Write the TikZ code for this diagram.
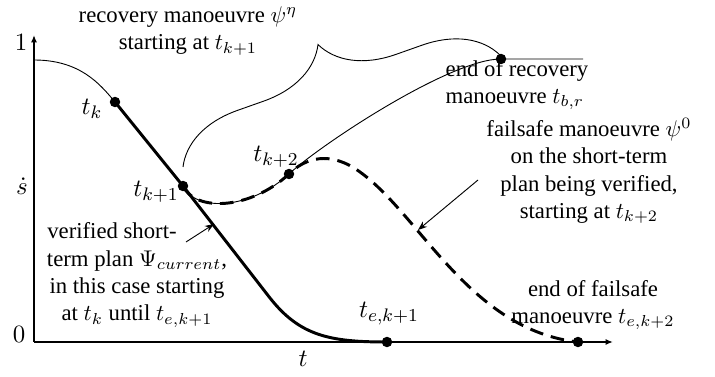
\documentclass[tikz,border=0pt]{standalone}
\usepackage{fontspec}
\setmainfont{Liberation Serif}
\usepackage{tikz}
\usetikzlibrary{arrows.meta,decorations.pathreplacing}
\tikzset{
  ax/.style={-{Latex[length=3.2pt,width=2.6pt]},line width=0.8pt},
  ar/.style={-{Stealth[length=4pt,width=3pt]},line width=0.4pt},
  plan/.style={line width=1.3pt},
  fsafe/.style={line width=1.3pt,dash pattern=on 6pt off 3.5pt},
  rec/.style={line width=0.4pt},
  pt/.style={circle,fill,inner sep=0pt,minimum size=4.6pt},
  lbl/.style={align=center,inner sep=0pt},
  tlbl/.style={font=\fontsize{11}{13}\selectfont,inner sep=0pt}
}

\begin{document}
\begin{tikzpicture}[x=0.44pt,y=-0.44pt]
\useasboundingbox (0,0) rectangle (715,377);
% axes
\coordinate (o) at (34,342);
\coordinate (ytop) at (34,35);
\coordinate (xend) at (613,342);
\draw[ax] (o) -- (ytop);
\draw[ax] (o) -- (xend);
\node[tlbl] (one) at (21,42) {$1$};
\node[tlbl] (zero) at (19,334) {$0$};
\node[tlbl] (sdot) at (22,186) {$\dot{s}$};
\node[tlbl] (tax) at (303,359) {$t$};
% time instants
\coordinate (s0) at (34,60);
\coordinate (tk) at (115,102);
\coordinate (tk1) at (183,186);
\coordinate (tk2) at (289,174);
\coordinate (tbr) at (501,59);
\coordinate (rend) at (583,59);
\coordinate (tek1) at (387,342);
\coordinate (tek2) at (578,342);
% failsafe manoeuvre
\draw[fsafe] (tk1) .. controls (195,212) and (250,210) .. (tk2)
  .. controls (305,158) and (330,150) .. (360,172)
  .. controls (420,215) and (470,330) .. (tek2);
% recovery manoeuvre
\draw[rec] (s0) .. controls (80,60) and (100,84) .. (tk);
\draw[rec] (tk1) .. controls (195,212) and (250,210) .. (tk2)
  .. controls (320,145) and (450,59) .. (tbr) -- (rend);
% verified plan
\draw[plan] (tk) -- (tk1) -- (270,298)
  .. controls (300,336) and (330,342) .. (tek1);
\draw[rec,decorate,decoration={brace,amplitude=31pt}] (183,167) -- (500,55);
% texts
\node[lbl] (recov) at (188,31) {recovery manoeuvre $\psi^{\eta}$\\starting at $t_{k+1}$};
\node[lbl,align=left] (endrec) at (517,85) {end of recovery\\manoeuvre $t_{b,r}$};
\node[lbl] (fstxt) at (589,171) {failsafe manoeuvre $\psi^{0}$\\on the short-term\\plan being verified,\\starting at $t_{k+2}$};
\node[lbl] (veriftxt) at (137,275) {verified short-\hspace*{22pt}\\term plan $\Psi_{current}$,\\in this case starting\\at $t_k$ until $t_{e,k+1}$};
\node[lbl] (endfs) at (593,305) {end of failsafe\\manoeuvre $t_{e,k+2}$};
\coordinate (vfrom) at (186,242);
\coordinate (vto) at (214,224);
\coordinate (ffrom) at (478,180);
\coordinate (fto) at (418,230);
\draw[ar] (vfrom) -- (vto);
\draw[ar] (ffrom) -- (fto);
% dots and labels
\foreach \p in {tk,tk1,tk2,tbr,tek1,tek2}
  \node[pt] (d\p) at (\p) {};
\node[tlbl] (ltk) at (92,109) {$t_k$};
\node[tlbl] (ltk1) at (156,192) {$t_{k+1}$};
\node[tlbl] (ltk2) at (276,157) {$t_{k+2}$};
\node[tlbl] (ltek1) at (389,314) {$t_{e,k+1}$};
\end{tikzpicture}
\end{document}
